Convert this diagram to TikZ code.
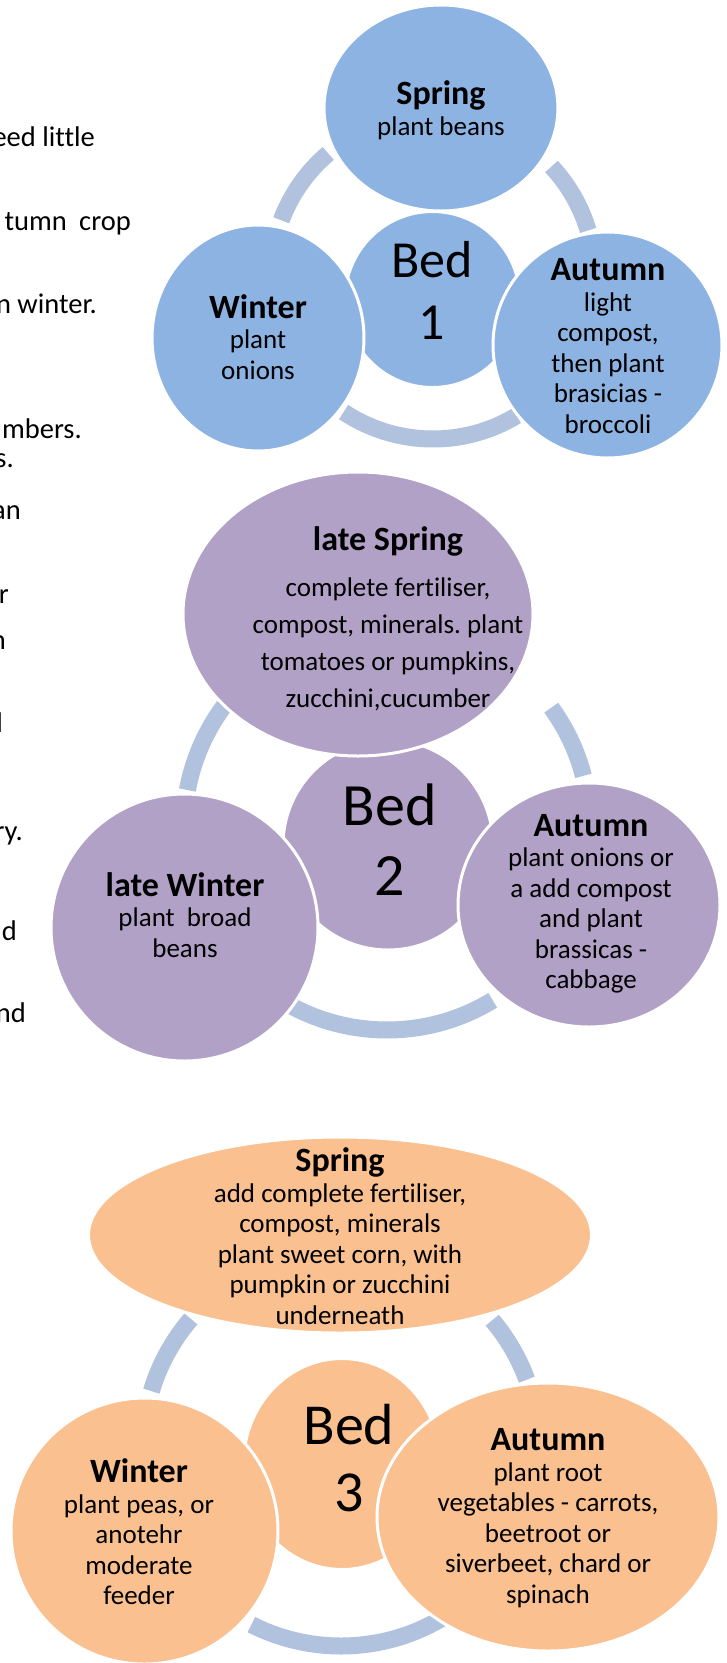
\documentclass[tikz,border=0pt]{standalone}
\usepackage{fontspec}
\setmainfont{Carlito}[Ligatures=NoCommon]
\usetikzlibrary{shapes.geometric}

\definecolor{bedblue}{RGB}{141,179,226}
\definecolor{bedpurple}{RGB}{178,161,199}
\definecolor{bedorange}{RGB}{250,192,143}
\definecolor{ringblue}{RGB}{176,194,222}

\newcommand{\season}[1]{{\fontsize{34}{34}\selectfont\bfseries #1}}

\begin{document}
\frenchspacing
\begin{tikzpicture}[x=1pt, y=-1pt,
    blob/.style={ellipse, draw=white, line width=3pt, inner sep=0pt},
    words/.style={align=center, inner sep=0pt, font=\fontsize{27}{30.5}\selectfont},
    ring/.style={draw=ringblue, line width=17pt},
    cutoff/.style={anchor=base east, inner sep=0pt, font=\fontsize{28.5}{30}\selectfont}]

    \useasboundingbox[fill=white] (0,0) rectangle (727,1663);

    % text of the page, cut off at the left edge
    \node[cutoff] (t1) at (95,146) {eed little};
    \node[cutoff] (t2) at (131,230) {tumn\hspace{6pt} crop};
    \node[cutoff] (t3) at (97,313) {n winter.};
    \node[cutoff] (t4) at (82,438) {mbers.};
    \node[cutoff] (t5) at (14,467) {s.};
    \node[cutoff] (t6) at (21,519) {an};
    \node[cutoff] (t7) at (9,603) {r};
    \node[cutoff] (t8) at (6,649) {n};
    \node[cutoff] (t9) at (3,732) {l};
    \node[cutoff] (t10) at (23,840) {ry.};
    \node[cutoff] (t11) at (17,940) {d};
    \node[cutoff] (t12) at (26,1022) {nd};

    % Bed 1
    \coordinate (r1) at (433,277);
    \draw[ring] (r1) ++(-43:162) arc[start angle=-43, end angle=-16.7, radius=162];
    \draw[ring] (r1) ++(-159.5:162) arc[start angle=-159.5, end angle=-130.3, radius=162];
    \draw[ring] (r1) ++(58.9:162) arc[start angle=58.9, end angle=123.5, radius=162];
    \node[blob, fill=bedblue, minimum width=175, minimum height=176] (b1c) at (432.5,299.5) {};
    \node[blob, fill=bedblue, minimum width=234, minimum height=206] (b1spr) at (441,108) {};
    \node[blob, fill=bedblue, minimum width=212, minimum height=226] (b1win) at (258,338) {};
    \node[blob, fill=bedblue, minimum width=229, minimum height=226] (b1aut) at (607.5,345) {};
    \node[words, font=\fontsize{52}{62}\selectfont] (b1name) at (432,290) {Bed\\1};
    \node[words] (b1sprt) at (441,110) {\season{Spring}\\plant beans};
    \node[words] (b1wint) at (258,337) {\season{Winter}\\plant\\onions};
    \node[words] (b1autt) at (608,346) {\season{Autumn}\\light\\compost,\\then plant\\brasicias -\\broccoli};

    % Bed 2
    \coordinate (r2) at (387,827);
    \draw[ring] (r2) ++(-36:203) arc[start angle=-36, end angle=-14.6, radius=203];
    \draw[ring] (r2) ++(-169.5:203) arc[start angle=-169.5, end angle=-143.4, radius=203];
    \draw[ring] (r2) ++(58.6:203) arc[start angle=58.6, end angle=118.3, radius=203];
    \node[blob, fill=bedpurple, minimum width=210, minimum height=210] (b2c) at (388,845) {};
    \node[blob, fill=bedpurple, minimum width=350, minimum height=284] (b2spr) at (358,614) {};
    \node[blob, fill=bedpurple, minimum width=267, minimum height=267] (b2win) at (184.5,927.5) {};
    \node[blob, fill=bedpurple, minimum width=262, minimum height=244] (b2aut) at (589,905) {};
    \node[words, font=\fontsize{60}{70}\selectfont] (b2name) at (390,840) {Bed\\2};
    \node[words, font=\fontsize{27}{37}\selectfont] (b2sprt) at (388,619) {\season{late Spring}\\[9pt]complete fertiliser,\\compost, minerals. plant\\tomatoes or pumpkins,\\zucchini,cucumber};
    \node[words] (b2wint) at (185,915) {\season{late Winter}\\plant\ \ broad\\beans};
    \node[words] (b2autt) at (591,904) {\season{Autumn}\\plant onions or\\a add compost\\and plant\\brassicas -\\cabbage};

    % Bed 3
    \coordinate (r3) at (341,1448);
    \draw[ring] (r3) ++(-40.2:198) arc[start angle=-40.2, end angle=-20.2, radius=198];
    \draw[ring] (r3) ++(-163.3:198) arc[start angle=-163.3, end angle=-139.3, radius=198];
    \draw[ring] (r3) ++(59.7:198) arc[start angle=59.7, end angle=116.9, radius=198];
    \node[blob, fill=bedorange, minimum width=197, minimum height=211] (b3c) at (342,1464) {};
    \node[blob, fill=bedorange, minimum width=503, minimum height=196] (b3spr) at (340,1235) {};
    \node[blob, fill=bedorange, minimum width=267, minimum height=266] (b3win) at (144.5,1531) {};
    \node[blob, fill=bedorange, minimum width=342, minimum height=268] (b3aut) at (548,1517) {};
    \node[words, font=\fontsize{58}{67}\selectfont] (b3name) at (349,1458) {Bed\\3};
    \node[words] (b3sprt) at (340,1236) {\season{Spring}\\add complete fertiliser,\\compost, minerals\\plant sweet corn, with\\pumpkin or zucchini\\underneath};
    \node[words] (b3wint) at (139,1532) {\season{Winter}\\plant peas, or\\anotehr\\moderate\\feeder};
    \node[words] (b3autt) at (548,1518) {\season{Autumn}\\plant root\\vegetables - carrots,\\beetroot or\\siverbeet, chard or\\spinach};

\end{tikzpicture}
\end{document}
